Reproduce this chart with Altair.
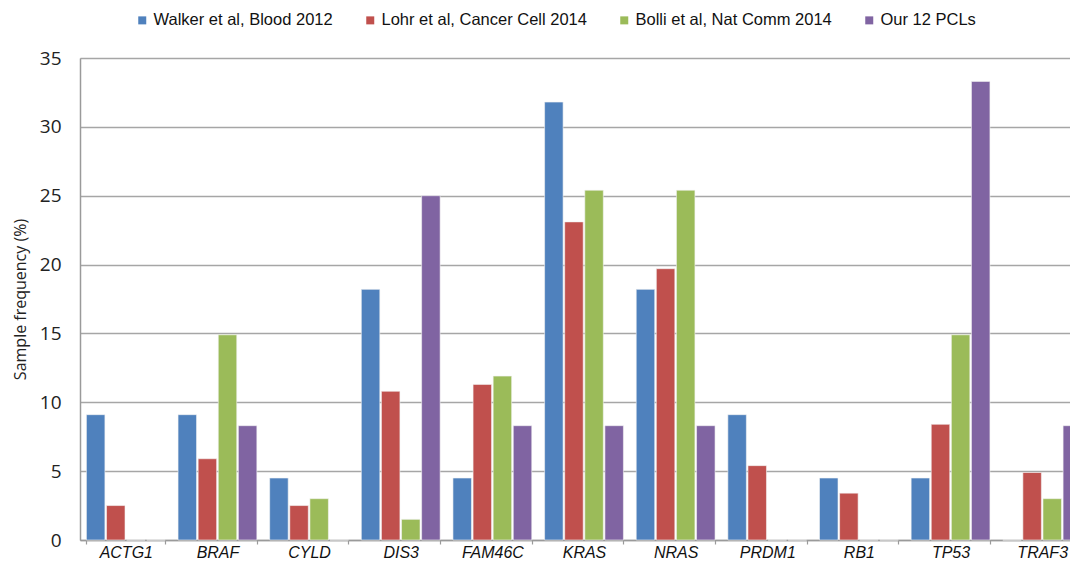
import altair as alt
import pandas as pd

genes = ["ACTG1", "BRAF", "CYLD", "DIS3", "FAM46C", "KRAS", "NRAS", "PRDM1", "RB1", "TP53", "TRAF3"]
series = ["Walker et al, Blood 2012", "Lohr et al, Cancer Cell 2014",
          "Bolli et al, Nat Comm 2014", "Our 12 PCLs"]
walker = [9.1, 9.1, 4.5, 18.2, 4.5, 31.8, 18.2, 9.1, 4.5, 4.5, 0]
lohr = [2.5, 5.9, 2.5, 10.8, 11.3, 23.1, 19.7, 5.4, 3.4, 8.4, 4.9]
bolli = [0, 14.9, 3.0, 1.5, 11.9, 25.4, 25.4, 0, 0, 14.9, 3.0]
ours = [0, 8.3, 0, 25.0, 8.3, 8.3, 8.3, 0, 0, 33.3, 8.3]
colors = ["#4F81BD", "#C0504D", "#9BBB59", "#8064A2"]

rows = []
for s, vals in zip(series, [walker, lohr, bolli, ours]):
    for g, v in zip(genes, vals):
        rows.append({"gene": g, "series": s, "value": v})
df = pd.DataFrame(rows)

chart = alt.Chart(df).mark_bar(stroke="#f4f4f4", strokeWidth=0.6).encode(
    x=alt.X("gene:N", sort=genes, title=None,
            scale=alt.Scale(paddingInner=0.14, paddingOuter=0.07),
            axis=alt.Axis(labelAngle=0, labelFontStyle="italic", labelFont="Liberation Sans",
                          labelFontSize=16, labelColor="#111", tickBand="extent",
                          domainColor="#9a9a9a", domainWidth=1.5, tickColor="#9a9a9a",
                          tickSize=4, tickWidth=1.2, labelPadding=0)),
    xOffset=alt.XOffset("series:N", sort=series, scale=alt.Scale(paddingInner=0.08)),
    y=alt.Y("value:Q", title="Sample frequency (%)",
            scale=alt.Scale(domain=[0, 35], nice=False),
            axis=alt.Axis(values=[0, 5, 10, 15, 20, 25, 30, 35], grid=True,
                          gridColor="#a6a6a6", gridWidth=1.5, domainColor="#9a9a9a",
                          domainWidth=1.5, ticks=False, labelPadding=19,
                          labelFont="Open Sans", labelFontSize=19, labelColor="#222",
                          titleFont="Open Sans", titleFontSize=16, titleFontWeight="normal",
                          titleColor="#222", titlePadding=11)),
    color=alt.Color("series:N", sort=series,
                    scale=alt.Scale(domain=series, range=colors),
                    legend=alt.Legend(title=None, orient="none", direction="horizontal",
                                      legendX=54, legendY=-46, symbolType="square",
                                      symbolSize=64, symbolStrokeWidth=0,
                                      labelFont="Liberation Sans", labelFontSize=16.5,
                                      labelColor="#111", columnPadding=29, labelOffset=3,
                                      labelLimit=400)),
).properties(
    width=1008, height=482,
    padding={"left": 72, "top": 50, "right": -18, "bottom": 22},
    autosize=alt.AutoSizeParams(type="none"),
).configure_view(stroke=None).configure(background="white")

chart.save("out.html", embed_options={"renderer": "svg", "actions": False})
